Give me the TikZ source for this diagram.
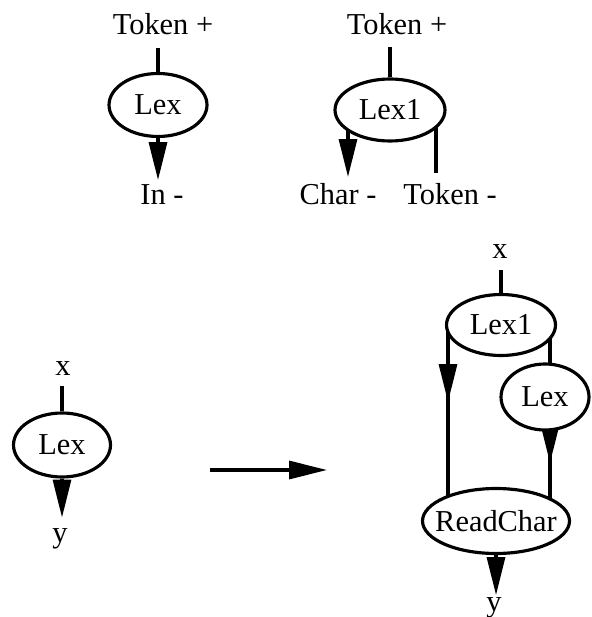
\documentclass[tikz,border=0pt]{standalone}
\usepackage{fontspec}
\setmainfont{Liberation Serif}
\usetikzlibrary{shapes.geometric,arrows.meta,backgrounds}

\newcommand{\nm}[1]{\makebox[0pt]{#1}}
\newcommand{\lw}{1.8pt}

\tikzset{
  proc/.style={ellipse, draw, fill=white, line width=\lw, inner sep=0pt},
  lbl/.style={inner sep=0pt, anchor=base},
  wire/.style={line width=\lw},
  flow/.style={line width=\lw, -{Triangle[length=0.76cm, width=0.36cm]}},
}

\begin{document}
\begin{tikzpicture}[x=0.02cm, y=-0.02cm, font=\fontsize{17.3}{20}\selectfont]
      \useasboundingbox (0,0) rectangle (591,617);
%
      % Lex : Token+ -> In-
      \node[proc, minimum width=1.96cm, minimum height=1.26cm] (lexa) at (158,105) {\nm{Lex}};
      \node[lbl] (tokA) at (163,35) {Token +};
      \node[lbl] (inA) at (162,205) {In -};
      \draw[wire] (lexa.north) -- ++(0,-24);
      \draw[flow] (lexa.south) -- ++(0,42);
%
      % Lex1 : Token+ -> Char-, Token-
      \node[proc, minimum width=2.2cm, minimum height=1.24cm] (lexb) at (390,110) {\nm{Lex1}};
      \node[lbl] (tokB) at (397,35) {Token +};
      \node[lbl] (chrB) at (338,205) {Char -};
      \node[lbl] (tokC) at (450,205) {Token -};
      \coordinate (chrtip) at (348,177);
      \coordinate (toktip) at (436,173);
      \draw[wire] (lexb.north) -- ++(0,-30);
      \begin{scope}[on background layer]
        \draw[flow] (lexb.center -| chrtip) -- (chrtip);
        \draw[wire] (lexb.center -| toktip) -- (toktip);
      \end{scope}
%
      % left hand side: x -> Lex -> y
      \node[proc, minimum width=1.94cm, minimum height=1.28cm] (lexd) at (62,445) {\nm{Lex}};
      \node[lbl] (xA) at (63,375) {x};
      \node[lbl] (yA) at (60,542) {y};
      \draw[wire] (lexd.north) -- ++(0,-25);
      \draw[flow] (lexd.south) -- ++(0,39);
%
      % rewrite arrow
      \coordinate (rwa) at (210,470);
      \coordinate (rwb) at (327,470);
      \draw[flow] (rwa) -- (rwb);
%
      % right hand side: Lex1, Lex, ReadChar
      \node[proc, minimum width=2.18cm, minimum height=1.22cm] (lexc) at (501,325) {\nm{Lex1}};
      \node[proc, minimum width=1.76cm, minimum height=1.32cm] (lexs) at (545,397) {\nm{Lex}};
      \node[proc, minimum width=2.94cm, minimum height=1.3cm] (rc) at (496,521) {\nm{ReadChar}};
      \node[lbl] (xB) at (500,259) {x};
      \node[lbl] (yB) at (494,611) {y};
      \coordinate (lmid) at (448,402);
      \coordinate (rmid) at (550,463);
      \draw[wire] (lexc.north) -- ++(0,-23);
      \draw[flow] (rc.south) -- ++(0,40);
      \begin{scope}[on background layer]
        \draw[flow] (lexc.center -| lmid) -- (lmid);
        \draw[wire] (lmid) ++(0,-8) -- (rc.center -| lmid);
        \draw[wire] (lexc.center -| rmid) -- (lexs.center -| rmid);
        \draw[flow] (lexs.center -| rmid) -- (rmid);
        \draw[wire] (rmid) ++(0,-8) -- (rc.center -| rmid);
      \end{scope}
\end{tikzpicture}
\end{document}
